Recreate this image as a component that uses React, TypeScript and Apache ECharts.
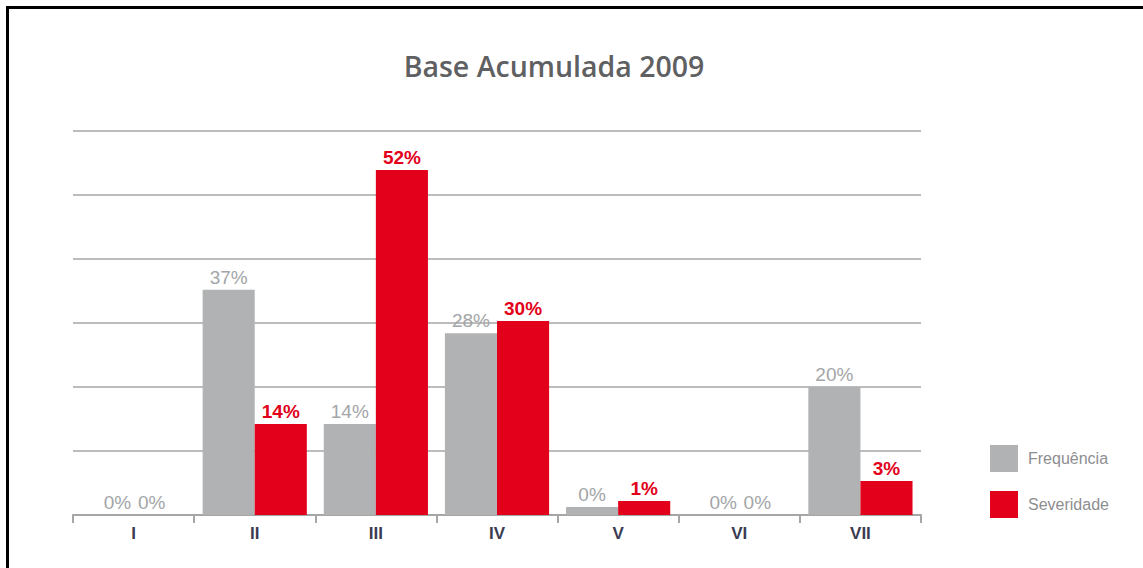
import React, { useEffect, useRef } from "react";
import * as echarts from "echarts";

const categories = ["I", "II", "III", "IV", "V", "VI", "VII"];
// bar heights as drawn (percent)
const frequenciaValues = [0, 35.2, 14.2, 28.4, 1.25, 0, 20];
const severidadeValues = [0, 14.2, 53.9, 30.3, 2.2, 0, 5.3];
// printed labels
const frequenciaLabels = ["0%", "37%", "14%", "28%", "0%", "0%", "20%"];
const severidadeLabels = ["0%", "14%", "52%", "30%", "1%", "0%", "3%"];

const GREY = "#b1b2b4";
const RED = "#e2001a";
const GREY_TEXT = "#a3a5a8";

export default function App() {
  const ref = useRef<HTMLDivElement>(null);
  useEffect(() => {
    const chart = echarts.init(ref.current!, null, { renderer: "svg" });
    const freqData = frequenciaValues.map((v) =>
      v === 0 ? { value: v, label: { offset: [10, 0] } } : v
    );
    const sevData = severidadeValues.map((v) =>
      v === 0
        ? { value: v, label: { offset: [-8, 0], color: GREY_TEXT, fontWeight: "normal" } }
        : v
    );
    chart.setOption({
      animation: false,
      backgroundColor: "#ffffff",
      title: {
        text: "Base Acumulada 2009",
        left: 549,
        textAlign: "center",
        top: 46,
        textStyle: {
          fontFamily: "Open Sans",
          fontWeight: 600,
          fontSize: 28.5,
          color: "#5f6062",
        },
      },
      legend: {
        orient: "vertical",
        left: 985,
        top: 440,
        itemWidth: 28,
        itemHeight: 27,
        itemGap: 19,
        icon: "rect",
        textStyle: {
          fontFamily: "Liberation Sans",
          fontSize: 16,
          color: "#8d8e90",
          padding: [4, 0, 0, 5],
        },
        data: ["Frequência", "Severidade"],
      },
      grid: { left: 73, right: 222, top: 131, bottom: 53 },
      xAxis: {
        type: "category",
        data: categories,
        axisLine: { lineStyle: { color: "#a6a6a6", width: 2 } },
        axisTick: { show: true, length: 8, lineStyle: { color: "#a6a6a6", width: 2 } },
        axisLabel: {
          margin: 10,
          fontFamily: "Liberation Sans",
          fontWeight: "bold",
          fontSize: 17,
          color: "#3b3c52",
        },
      },
      yAxis: {
        type: "value",
        min: 0,
        max: 60,
        interval: 10,
        axisLabel: { show: false },
        axisLine: { show: false },
        axisTick: { show: false },
        splitLine: { lineStyle: { color: "#a6a6a6", width: 1.5 } },
      },
      series: [
        {
          name: "Frequência",
          type: "bar",
          data: freqData,
          barGap: "0%",
          barCategoryGap: "14%",
          itemStyle: { color: GREY },
          label: {
            show: true,
            position: "top",
            distance: 3,
            fontFamily: "Liberation Sans",
            fontSize: 19,
            color: GREY_TEXT,
            formatter: (p: any) => frequenciaLabels[p.dataIndex],
          },
        },
        {
          name: "Severidade",
          type: "bar",
          data: sevData,
          barGap: "0%",
          barCategoryGap: "14%",
          itemStyle: { color: RED },
          label: {
            show: true,
            position: "top",
            distance: 3,
            fontFamily: "Liberation Sans",
            fontSize: 19,
            fontWeight: "bold",
            color: RED,
            formatter: (p: any) => severidadeLabels[p.dataIndex],
          },
        },
      ],
      graphic: [
        { type: "rect", shape: { x: 6, y: 6, width: 1137, height: 3 }, style: { fill: "#000" } },
        { type: "rect", shape: { x: 6, y: 6, width: 3, height: 562 }, style: { fill: "#000" } },
      ],
    });
    return () => chart.dispose();
  }, []);
  return (
    <div
      ref={ref}
      style={{ position: "fixed", left: 0, top: 0, width: 1143, height: 568 }}
    />
  );
}
